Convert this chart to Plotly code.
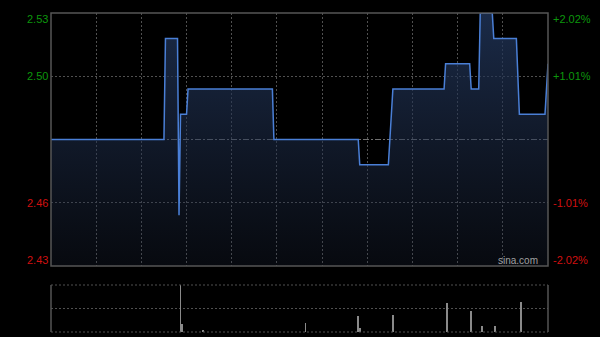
import plotly.graph_objects as go

# ---- data ----
prev_close = 2.48
price_minutes = [0, 75, 76, 84, 85, 86, 90, 91, 147, 148, 204, 205, 224, 225, 227,
                 261, 262, 278, 279, 284, 285, 293, 294, 309, 311, 328, 330]
price_values = [2.48, 2.48, 2.52, 2.52, 2.45, 2.49, 2.49, 2.50, 2.50, 2.48, 2.48, 2.47,
                2.47, 2.48, 2.50, 2.50, 2.51, 2.51, 2.50, 2.50, 2.53, 2.53, 2.52, 2.52,
                2.49, 2.49, 2.51]

vol_minutes = [86, 87, 101, 169, 204, 205, 227, 263, 279, 286, 295, 312]
vol_values = [1000, 177, 28, 200, 340, 85, 360, 620, 450, 120, 120, 640]

price_tick_vals = [2.5301, 2.5051, 2.4549, 2.4299]
price_tick_text = ["2.53", "2.50", "2.46", "2.43"]
pct_tick_text = ["+2.02%", "+1.01%", "-1.01%", "-2.02%"]

GREEN = "#0c960c"
RED = "#d01010"
GRID = "#505050"
BORDER = "#555555"
DOT = "2px,2px"

fig = go.Figure()

fig.add_trace(go.Scatter(
    x=price_minutes, y=price_values, mode="lines",
    line=dict(color="#4a7fd6", width=1.5),
    fill="tozeroy",
    fillgradient=dict(type="vertical", start=2.43, stop=2.53,
                      colorscale=[[0, "rgba(32,44,70,0.22)"], [1, "rgba(32,52,88,0.82)"]]),
    xaxis="x", yaxis="y", hoverinfo="skip", showlegend=False,
))

fig.add_trace(go.Bar(
    x=vol_minutes, y=vol_values, width=0.6,
    marker=dict(color="#8a8a8a", line=dict(width=0)),
    xaxis="x2", yaxis="y2", hoverinfo="skip", showlegend=False,
))

main_bottom = (332 - 266) / 319
vol_top = (332 - 285) / 319

fig.update_layout(
    width=600, height=337,
    margin=dict(l=51, r=52, t=13, b=5),
    paper_bgcolor="#000000", plot_bgcolor="#000000",
    font=dict(family="Liberation Sans, Arial, sans-serif", size=11),
    xaxis=dict(range=[0, 330], domain=[0, 1], tick0=0, dtick=30,
               showgrid=True, gridcolor=GRID, griddash=DOT, gridwidth=1,
               showticklabels=False, ticks="", zeroline=False, showline=False),
    yaxis=dict(range=[2.4299, 2.5301], domain=[main_bottom, 1],
               tickvals=[price_tick_vals[1], price_tick_vals[2]],
               showgrid=True, gridcolor=GRID, griddash=DOT, gridwidth=1,
               showticklabels=False, ticks="", zeroline=False, showline=False),
    xaxis2=dict(range=[0, 330], domain=[0, 1], anchor="y2",
                showgrid=False, showticklabels=False, ticks="", zeroline=False),
    yaxis2=dict(range=[0, 1000], domain=[0, vol_top], anchor="x2",
                tickvals=[500], showgrid=True, gridcolor=GRID, griddash=DOT,
                showticklabels=False, ticks="", zeroline=False),
    bargap=0,
)

shapes = []
# previous close line
shapes.append(dict(type="line", xref="x", yref="y", x0=0, x1=330, y0=prev_close, y1=prev_close,
                   line=dict(color="#707070", width=1, dash="6px,2px,2px,2px"), layer="below"))
# main border
shapes.append(dict(type="rect", xref="paper", yref="paper", x0=0, x1=1, y0=main_bottom, y1=1,
                   line=dict(color=BORDER, width=1.5)))
# volume borders
shapes.append(dict(type="line", xref="paper", yref="paper", x0=0, x1=0, y0=0, y1=vol_top,
                   line=dict(color=BORDER, width=1.5)))
shapes.append(dict(type="line", xref="paper", yref="paper", x0=1, x1=1, y0=0, y1=vol_top,
                   line=dict(color=BORDER, width=1.5)))
shapes.append(dict(type="line", xref="paper", yref="paper", x0=0, x1=1, y0=vol_top, y1=vol_top,
                   line=dict(color=GRID, width=1, dash=DOT)))
shapes.append(dict(type="line", xref="paper", yref="paper", x0=0, x1=1, y0=0, y1=0,
                   line=dict(color=GRID, width=1, dash=DOT)))
fig.update_layout(shapes=shapes)

annotations = []
shifts = [-6, 0, 0, 6]
for v, lt, rt, s in zip(price_tick_vals, price_tick_text, pct_tick_text, shifts):
    col = GREEN if v > prev_close else RED
    annotations.append(dict(xref="paper", yref="y", x=0, y=v, text=lt, showarrow=False,
                            xanchor="right", yanchor="middle", xshift=-1, yshift=s,
                            font=dict(color=col, size=11)))
    annotations.append(dict(xref="paper", yref="y", x=1, y=v, text=rt, showarrow=False,
                            xanchor="left", yanchor="middle", xshift=3, yshift=s,
                            font=dict(color=col, size=11)))
annotations.append(dict(xref="paper", yref="y", x=1, y=2.4299, text="sina.com", showarrow=False,
                        xanchor="right", yanchor="bottom", xshift=-8, yshift=-2,
                        font=dict(color="#a0a0a0", size=10)))
fig.update_layout(annotations=annotations)

fig.write_html("out.html")
